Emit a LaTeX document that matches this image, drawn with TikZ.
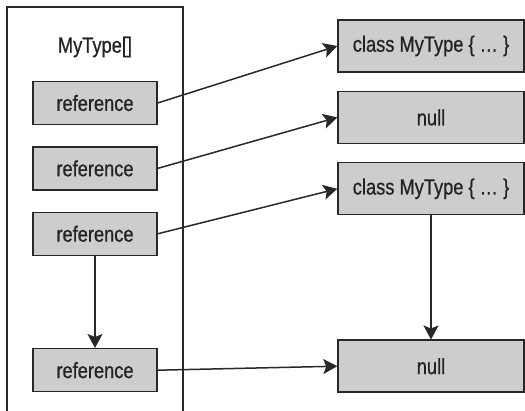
\documentclass[tikz,border=0pt]{standalone}
\usepackage{fontspec}
\setmainfont{Liberation Sans}[FakeStretch=0.83, FakeBold=0.7]
\usepackage{xcolor}
\usepackage{tikz}
\usetikzlibrary{arrows.meta, positioning}
\definecolor{boxgray}{RGB}{205,205,205}
\definecolor{linegray}{RGB}{40,40,40}
\definecolor{textgray}{RGB}{35,35,35}
\tikzset{
  refbox/.style={draw=linegray, fill=boxgray, line width=1.4pt, minimum width=124pt,
                 minimum height=43pt, inner sep=0pt, text=textgray},
  objbox/.style={draw=linegray, fill=boxgray, line width=1.4pt, minimum width=186pt,
                 minimum height=52pt, inner sep=0pt, text=textgray},
  link/.style={-{Stealth[length=14pt, width=15pt, inset=3pt]}, line width=1.5pt, linegray},
}

\begin{document}
\begin{tikzpicture}[x=1pt, y=-1pt, font=\fontsize{22}{26}\selectfont]
        \useasboundingbox (0,0) rectangle (525,411);
        % array frame, open at the bottom
        \draw[line width=1.3pt, linegray] (7,411) -- (7,7) -- (183,7) -- (183,411);
        \node[text=textgray] (arr) at (95,47) {MyType[]};
        \node[refbox] (ref1) at (95,103) {reference};
        \node[refbox, below=21pt of ref1] (ref2) {reference};
        \node[refbox, below=21pt of ref2] (ref3) {reference};
        \node[refbox, below=92pt of ref3] (ref4) {reference};
        % objects on the heap
        \node[objbox] (obj1) at (431,46) {class MyType \{ \dots\ \}};
        \node[objbox, below=18pt of obj1] (obj2) {null};
        \node[objbox, below=18pt of obj2] (obj3) {class MyType \{ \dots\ \}};
        \node[objbox, below=124pt of obj3] (obj4) {null};
        \draw[link] (ref1.east) -- (obj1.west);
        \draw[link] (ref2.east) -- (obj2.west);
        \draw[link] (ref3.east) -- (obj3.west);
        \draw[link] (ref3.south) -- (ref4.north);
        \draw[link] (ref4.east) -- (obj4.west);
        \draw[link] (obj3.south) -- (obj4.north);
      \end{tikzpicture}
\end{document}
